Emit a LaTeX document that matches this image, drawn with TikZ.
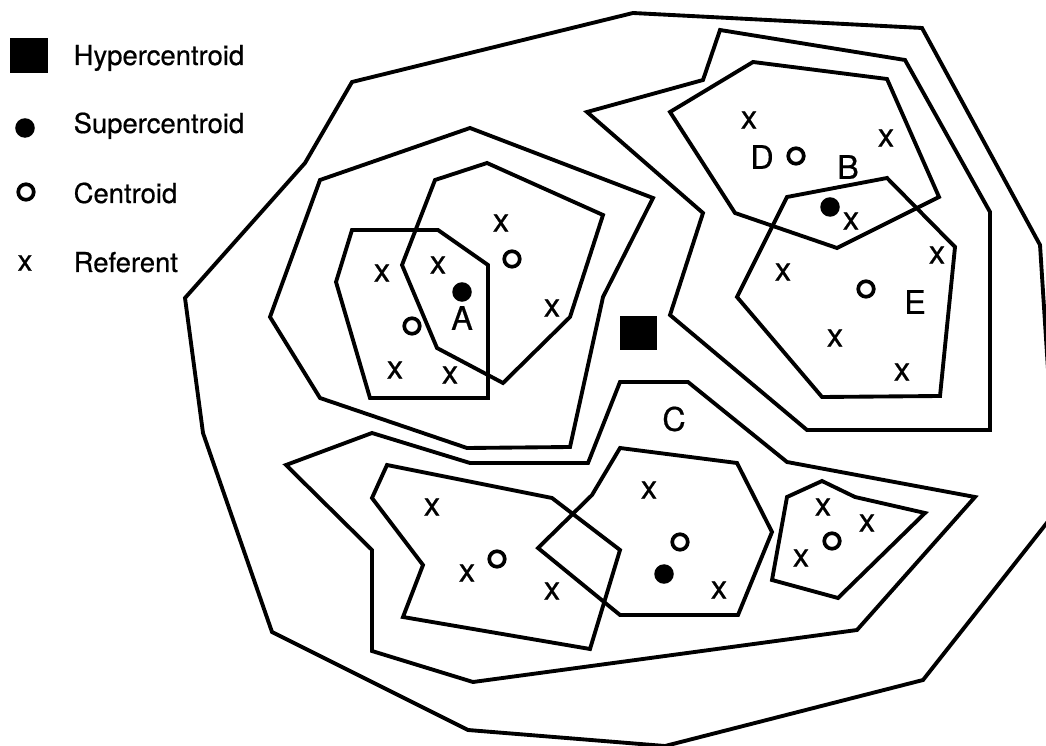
\documentclass[tikz,border=0pt]{standalone}
\usepackage{fontspec}
\setmainfont[FakeBold=0.6,AutoFakeBold=0.6]{TeX Gyre Heros}

\begin{document}
\begin{tikzpicture}[
  x=0.01cm, y=-0.01cm,
  region/.style={draw, line width=1.1pt},
  referent/.style={inner sep=0pt, font=\fontsize{9.3}{10}\selectfont\bfseries},
  centroid/.style={circle, draw, line width=1.05pt, minimum size=0.155cm, inner sep=0pt},
  supcen/.style={circle, fill, minimum size=0.195cm, inner sep=0pt},
  hypcen/.style={fill, minimum width=0.37cm, minimum height=0.34cm, inner sep=0pt},
  legtext/.style={anchor=base west, inner sep=0pt, font=\fontsize{7.8}{9}\selectfont\bfseries},
  tag/.style={inner sep=0pt, font=\fontsize{9.2}{10}\selectfont\bfseries}
]
\useasboundingbox (0,0) rectangle (1046,746);
\clip (0,0) rectangle (1046,746);

% legend
\node[hypcen] (lhyp) at (29,55.5) {};
\node[supcen] (lsup) at (25,128) {};
\node[centroid] (lcen) at (26,192) {};
\node[referent, font=\fontsize{8.4}{9}\selectfont\bfseries] (lref) at (25,263) {x};
\node[legtext] (thyp) at (73,65) {Hypercentroid};
\node[legtext] (tsup) at (73,133) {Supercentroid};
\node[legtext] (tcen) at (73,203) {Centroid};
\node[legtext] (tref) at (73,272) {Referent};

% outermost region
\draw[region] (633,13) -- (922,28) -- (1040,245) -- (1057,510) -- (923,680)
  -- (665,746) -- (468,730) -- (272,632) -- (203,433) -- (185,298)
  -- (305,163) -- (352,82) -- cycle;

% left group (A)
\draw[region] (320,180) -- (470,128) -- (653,198) -- (603,297) -- (570,447)
  -- (467,448) -- (320,398) -- (270,317) -- cycle;
\draw[region] (352,230) -- (438,230) -- (488,265) -- (488,398) -- (370,398)
  -- (336,282) -- cycle;
\draw[region] (435,180) -- (487,163) -- (603,215) -- (570,317) -- (503,383)
  -- (437,348) -- (402,265) -- cycle;

% upper right group (B, D, E)
\draw[region] (720,30) -- (905,60) -- (990,212) -- (990,430) -- (807,430)
  -- (670,315) -- (703,213) -- (587,112) -- (703,80) -- cycle;
\draw[region] (753,62) -- (887,79) -- (939,197) -- (837,248) -- (735,213)
  -- (670,112) -- cycle;
\draw[region] (787,197) -- (887,178) -- (955,247) -- (940,396) -- (822,397)
  -- (737,297) -- cycle;

% lower group (C)
\draw[region] (286,465) -- (372,433) -- (470,463) -- (588,463) -- (620,382)
  -- (688,382) -- (787,462) -- (975,497) -- (857,630) -- (473,682)
  -- (372,651) -- (372,550) -- cycle;
\draw[region] (387,465) -- (552,498) -- (620,550) -- (590,649) -- (403,617)
  -- (423,565) -- (372,498) -- cycle;
\draw[region] (620,448) -- (737,463) -- (772,532) -- (738,615) -- (620,615)
  -- (538,548) -- (592,495) -- cycle;
\draw[region] (787,497) -- (822,481) -- (855,497) -- (925,513) -- (838,598)
  -- (772,580) -- cycle;

% hypercentroid
\node[hypcen] (hyp) at (638.5,333) {};

% members of A
\node[referent] (a1) at (382,273) {x};
\node[referent] (a2) at (438,265) {x};
\node[referent] (a3) at (395,370) {x};
\node[referent] (a4) at (450,375) {x};
\node[referent] (a5) at (501,223) {x};
\node[referent] (a6) at (552,308) {x};
\node[centroid] (ca1) at (412,326) {};
\node[centroid] (ca2) at (512,259) {};
\node[supcen] (sa) at (462,292) {};
\node[tag] (la) at (462,318) {A};

% members of B, D, E
\node[referent] (b1) at (749,120) {x};
\node[referent] (b2) at (886,138) {x};
\node[referent] (b3) at (851,221) {x};
\node[referent] (b4) at (783,272) {x};
\node[referent] (b5) at (937,255) {x};
\node[referent] (b6) at (835,338) {x};
\node[referent] (b7) at (902,372) {x};
\node[centroid] (cd) at (796,156) {};
\node[centroid] (ce) at (866,289) {};
\node[supcen] (sb) at (830,207) {};
\node[tag] (ld) at (762,157) {D};
\node[tag] (lb) at (848,167) {B};
\node[tag] (le) at (915,302) {E};

% members of C
\node[referent] (c1) at (432,507) {x};
\node[referent] (c2) at (467,573) {x};
\node[referent] (c3) at (552,591) {x};
\node[referent] (c4) at (649,490) {x};
\node[referent] (c5) at (719,590) {x};
\node[referent] (c6) at (823,507) {x};
\node[referent] (c7) at (867,523) {x};
\node[referent] (c8) at (801,558) {x};
\node[centroid] (cc1) at (497,559) {};
\node[centroid] (cc2) at (680,542) {};
\node[centroid] (cc3) at (832,541) {};
\node[supcen] (sc) at (664,574) {};
\node[tag] (lc) at (674,419) {C};
\end{tikzpicture}
\end{document}
